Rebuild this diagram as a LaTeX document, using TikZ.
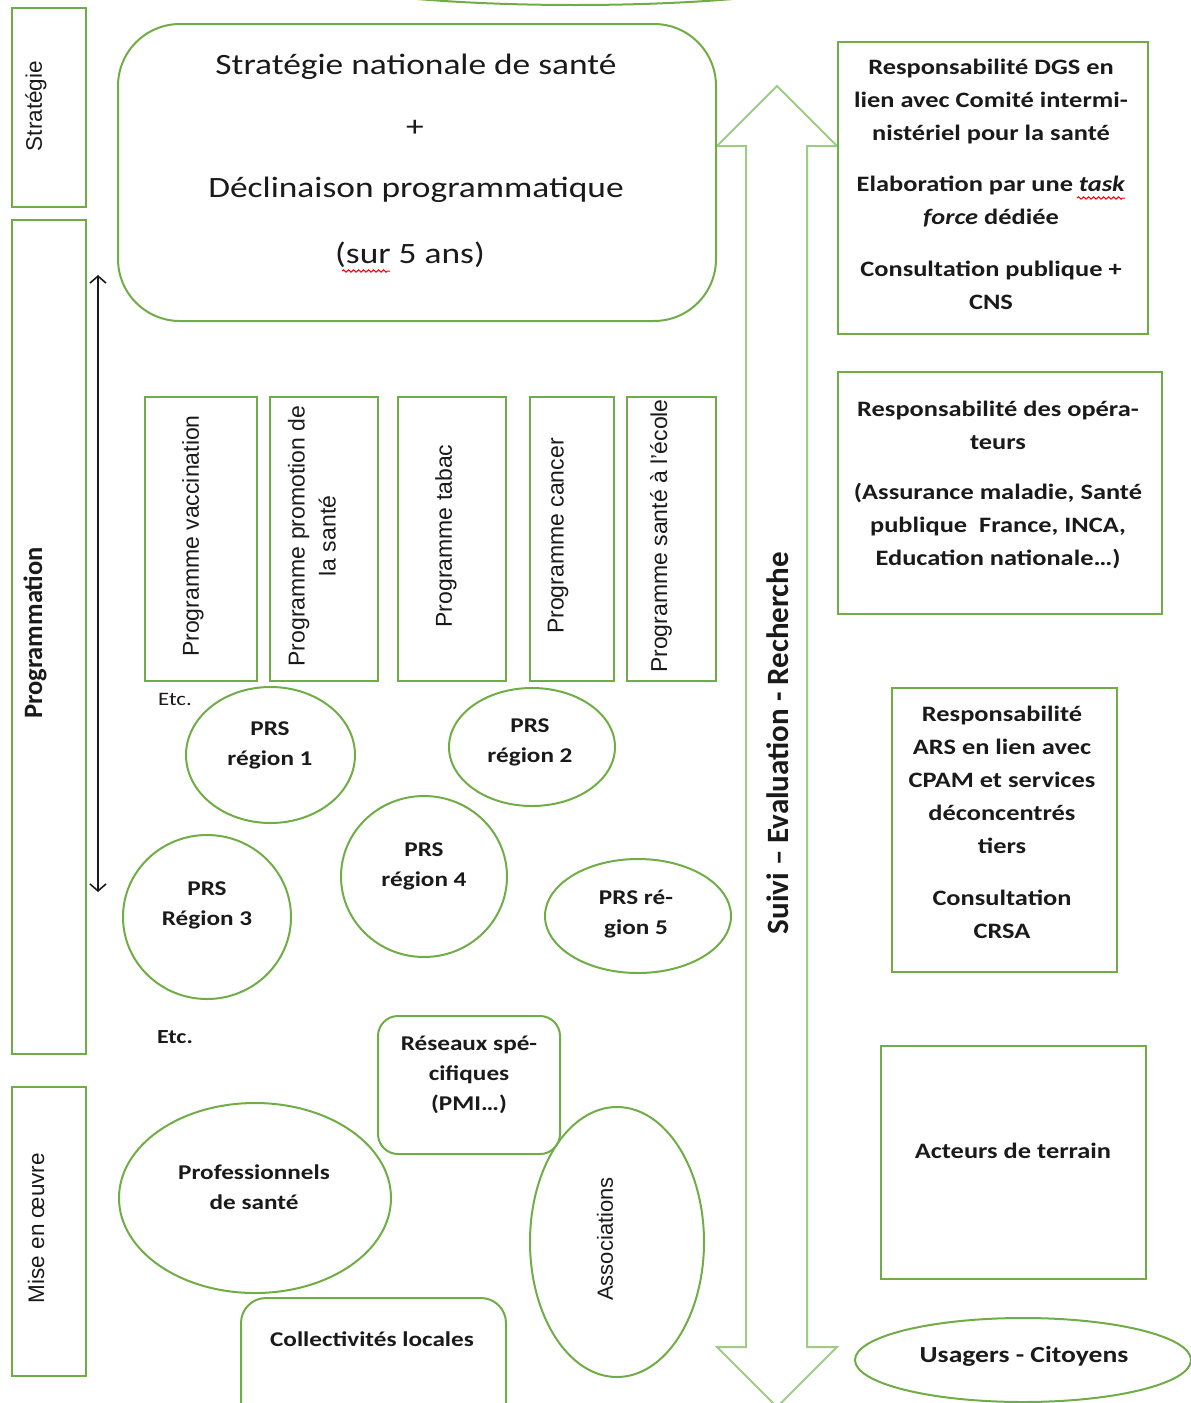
\documentclass[tikz,border=0pt]{standalone}
\usepackage{fontspec}
\setmainfont[FakeStretch=1.2]{Carlito}
\newfontfamily\calr{Carlito}
\newfontfamily\arialf{Liberation Sans}
\usetikzlibrary{shapes.geometric,arrows.meta,decorations.pathmorphing}
\definecolor{og}{HTML}{70AD47}
\definecolor{lg}{HTML}{9FCC84}
\definecolor{ink}{HTML}{1A1A1A}
\tikzset{
 gbox/.style={draw=og, line width=2pt, inner sep=0pt},
 gell/.style={draw=og, line width=2pt, ellipse, inner sep=0pt},
 txt/.style={text=ink, inner sep=0pt, align=center},
 rb/.style={txt, font=\bfseries\fontsize{22}{33}\selectfont},
 prg/.style={txt, rotate=90, font=\arialf\fontsize{23}{31}\selectfont},
 prs/.style={txt, font=\bfseries\fontsize{21}{30}\selectfont},
 squig/.style={draw=red, line width=1pt, decorate, decoration={snake, amplitude=1.2pt, segment length=5pt}},
 barb/.tip={Straight Barb[length=7pt,width=16pt]},
}
\begin{document}
\begin{tikzpicture}[x=1pt,y=-1pt]
\useasboundingbox (0,0) rectangle (1191,1403);
% top partial ellipse
\node[gell, minimum width=600, minimum height=80] (topell) at (575,-35) {};

% left column
\node[gbox, minimum width=74, minimum height=199] (strat) at (49,107.5) {};
\node[txt, rotate=90, font=\arialf\fontsize{22.5}{26}\selectfont] (stratT) at (36,106) {Stratégie};
\node[gbox, minimum width=74, minimum height=834] (prog) at (49,637) {};
\node[txt, rotate=90, font=\calr\bfseries\fontsize{26.5}{30}\selectfont] (progT) at (35,633) {Programmation};
\node[gbox, minimum width=74, minimum height=289] (mise) at (49,1231.5) {};
\node[txt, rotate=90, font=\arialf\fontsize{22.5}{26}\selectfont] (miseT) at (36,1228) {Mise en œuvre};

% double arrow
\coordinate (dtop) at (98,275);
\coordinate (dbot) at (98,892);
\draw[ink, line width=1.6pt, barb-barb] (dtop) -- (dbot);

% big up-down arrow
\draw[lg, line width=2pt, line join=miter] (777,86) -- (837,146) -- (807,146) -- (807,1347) -- (837,1347) -- (777,1407) -- (717,1347) -- (746,1347) -- (746,146) -- (717,146) -- cycle;
\node[txt, rotate=90, font=\calr\bfseries\fontsize{31}{36}\selectfont] (suivi) at (778,743) {Suivi – Evaluation - Recherche};

% national strategy
\node[gbox, rounded corners=62pt, minimum width=598, minimum height=297] (sns) at (417,172.5) {};
\node[txt, font=\fontsize{29.5}{35}\selectfont] (sns1) at (416,67) {Stratégie nationale de santé};
\node[txt, font=\fontsize{29.5}{35}\selectfont] (sns2) at (415,128) {+};
\node[txt, font=\fontsize{29.5}{35}\selectfont] (sns3) at (416,190) {Déclinaison programmatique};
\node[txt, font=\fontsize{29.5}{35}\selectfont] (sns4) at (410,255) {(sur 5 ans)};
\draw[squig] (342,271) -- (390,271);

% right column
\node[gbox, minimum width=310, minimum height=292] (dgs) at (993,188) {};
\node[rb] (dgsT) at (991,184) {Responsabilité DGS en\\lien avec Comité intermi-\\nistériel pour la santé\\[18pt]Elaboration par une \textit{task}\\\textit{force} dédiée\\[19pt]Consultation publique +\\CNS};
\draw[squig] (1077,198) -- (1125,198);

\node[gbox, minimum width=324, minimum height=242] (oper) at (1000,493) {};
\node[rb] (operT) at (998,485) {Responsabilité des opéra-\\teurs\\[17pt](Assurance maladie, Santé\\publique~ France, INCA,\\Education nationale…)};

\node[gbox, minimum width=225, minimum height=284] (ars) at (1004.5,830) {};
\node[rb] (arsT) at (1002,822) {Responsabilité\\ARS en lien avec\\CPAM et services\\déconcentrés\\tiers\\[19pt]Consultation\\CRSA};

\node[gbox, minimum width=265, minimum height=233] (acteurs) at (1013.5,1162.5) {};
\node[txt, font=\bfseries\fontsize{22}{26}\selectfont] (acteursT) at (1013,1151) {Acteurs de terrain};

\node[gell, minimum width=336, minimum height=84] (usagers) at (1023,1360) {};
\node[txt, font=\bfseries\fontsize{23}{28}\selectfont] (usagersT) at (1024,1356) {Usagers - Citoyens};

% programmes
\node[gbox, minimum width=112, minimum height=284] (p1) at (201,539) {};
\node[prg] (p1T) at (193,536) {Programme vaccination};
\node[gbox, minimum width=108, minimum height=284] (p2) at (324,539) {};
\node[prg] (p2T) at (312,536) {Programme promotion de\\la santé};
\node[gbox, minimum width=108, minimum height=284] (p3) at (452,539) {};
\node[prg] (p3T) at (446,536) {Programme tabac};
\node[gbox, minimum width=84, minimum height=284] (p4) at (572,539) {};
\node[prg] (p4T) at (558,536) {Programme cancer};
\node[gbox, minimum width=89, minimum height=284] (p5) at (671.5,539) {};
\node[prg] (p5T) at (661,536) {Programme santé à l’école};

\node[txt, font=\fontsize{19}{23}\selectfont] (etc1) at (175,699) {Etc.};

% PRS
\node[gell, minimum width=169, minimum height=136] (prs1) at (270.5,755) {};
\node[prs] (prs1T) at (270,745) {PRS\\région 1};
\node[gell, minimum width=166, minimum height=118] (prs2) at (532,747) {};
\node[prs] (prs2T) at (530,742) {PRS\\région 2};
\node[gell, minimum width=168, minimum height=164] (prs3) at (207,917) {};
\node[prs] (prs3T) at (207,905) {PRS\\Région 3};
\node[gell, minimum width=166, minimum height=161] (prs4) at (424,876.5) {};
\node[prs] (prs4T) at (424,866) {PRS\\région 4};
\node[gell, minimum width=186, minimum height=114] (prs5) at (638,916) {};
\node[prs] (prs5T) at (636,914) {PRS ré-\\gion 5};

\node[txt, font=\bfseries\fontsize{20}{24}\selectfont] (etc2) at (175,1037) {Etc.};

% mise en oeuvre actors
\node[gbox, rounded corners=20pt, minimum width=182, minimum height=138] (res) at (469,1085) {};
\node[prs] (resT) at (469,1075) {Réseaux spé-\\cifiques\\(PMI…)};
\node[gell, minimum width=272, minimum height=190] (pro) at (255,1198) {};
\node[prs] (proT) at (254,1187) {Professionnels\\de santé};
\node[gell, minimum width=174, minimum height=270] (asso) at (617,1242) {};
\node[txt, rotate=90, font=\arialf\fontsize{22}{25}\selectfont] (assoT) at (605,1239) {Associations};
\node[gbox, rounded corners=25pt, minimum width=265, minimum height=130] (coll) at (373.5,1363) {};
\node[prs] (collT) at (372,1339) {Collectivités locales};
\end{tikzpicture}
\end{document}
